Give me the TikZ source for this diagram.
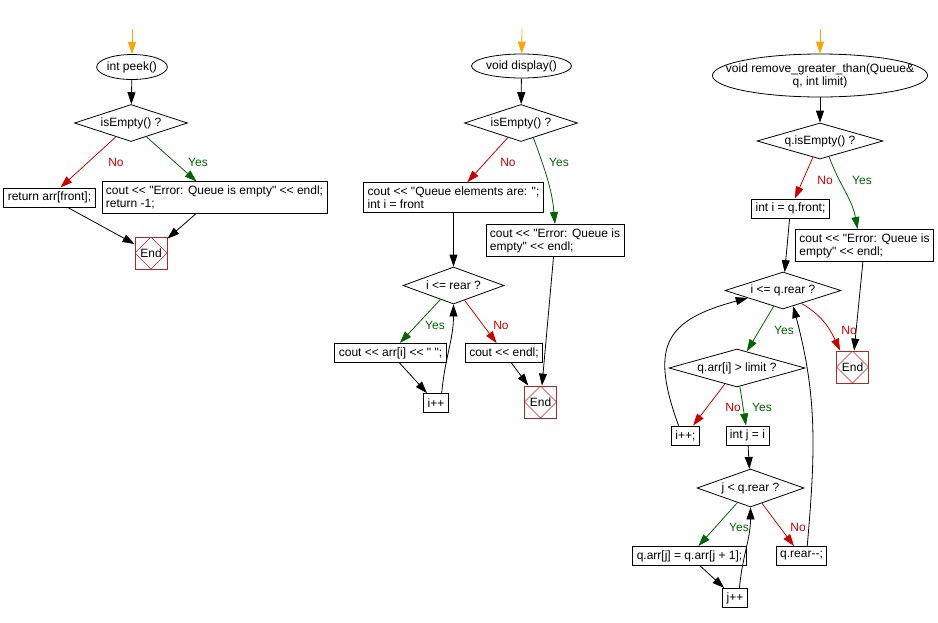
\documentclass[tikz,border=0pt]{standalone}
\usepackage{fontspec}
\setmainfont{Liberation Sans}[Ligatures=TeXOff]
\usetikzlibrary{shapes.geometric,arrows.meta}
\definecolor{nored}{RGB}{204,0,0}
\definecolor{yesgreen}{RGB}{0,100,0}
\definecolor{endbrown}{RGB}{165,42,42}
\definecolor{endred}{RGB}{200,30,30}
\definecolor{startorange}{RGB}{255,165,0}
\begin{document}
\begin{tikzpicture}[x=1pt,y=1pt,line width=0.8pt,font=\fontsize{12}{13}\selectfont,
  >={Triangle[length=12pt,width=8pt]},
  terminal/.style={ellipse,draw,inner xsep=0pt,inner ysep=1pt},
  decision/.style={diamond,draw,aspect=3,inner sep=0pt},
  box/.style={rectangle,draw,align=left,inner xsep=4pt,inner ysep=4pt,minimum height=19pt},
  endbox/.style={draw=endbrown,minimum size=32pt,inner sep=0pt,
    path picture={\draw[endred,line width=0.6pt] (path picture bounding box.north) -- (path picture bounding box.east)
      -- (path picture bounding box.south) -- (path picture bounding box.west) -- cycle;}},
  arr/.style={->},
  arrno/.style={->,nored},
  arryes/.style={->,yesgreen},
  arrstart/.style={->,startorange},
  nolab/.style={text=nored},
  yeslab/.style={text=yesgreen}]
\useasboundingbox (0,0) rectangle (938,-622);
% int peek()
\coordinate (s1) at (132,-29);
\node[terminal,minimum width=67pt,minimum height=25pt] (p1) at (132,-67) {int peek()};
\node[decision,minimum width=113pt,minimum height=37pt] (d1) at (131,-123) {isEmpty() ?};
\node[box] (r1) at (49.5,-197.5) {return arr[front];};
\node[box] (e1) at (214.5,-197.5) {cout << "Error: Queue is empty" << endl;\\return -1;};
\node[endbox] (x1) at (151,-253) {End};
\node[nolab] (n1) at (116,-162) {No};
\node[yeslab] (y1) at (198,-162) {Yes};
\draw[arrstart] (s1) -- (p1);
\draw[arr] (p1) -- (d1);
\draw[arrno] (d1) -- (r1);
\draw[arryes] (d1) -- (e1);
\draw[arr] (r1) -- (x1);
\draw[arr] (e1) -- (x1);
% void display()
\coordinate (s2) at (522,-29);
\node[terminal,minimum width=89pt,minimum height=24pt] (p2) at (521.5,-66) {void display()};
\node[decision,minimum width=113pt,minimum height=37pt] (d2) at (521,-123) {isEmpty() ?};
\node[box] (q2) at (453.5,-197.5) {cout << "Queue elements are: ";\\int i = front};
\node[box] (e2) at (555,-240.5) {cout << "Error: Queue is\\empty" << endl;};
\node[decision,minimum width=101pt,minimum height=37pt] (d3) at (453.5,-285.5) {i <= rear ?};
\node[box] (c2) at (390.5,-353) {cout << arr[i] << " ";};
\node[box] (l2) at (504,-353) {cout << endl;};
\node[box] (i2) at (436,-403) {i++};
\node[endbox] (x2) at (540.5,-402) {End};
\node[nolab] (n2) at (508,-162) {No};
\node[yeslab] (y2) at (559,-162) {Yes};
\node[yeslab] (y3) at (435,-325) {Yes};
\node[nolab] (n3) at (501,-325) {No};
\draw[arrstart] (s2) -- (p2);
\draw[arr] (p2) -- (d2);
\draw[arrno] (d2) -- (q2);
\draw[arryes] (d2.-50) to[out=-70,in=95] (e2.north);
\draw[arr] (q2) -- (d3);
\draw[arryes] (d3) -- (c2);
\draw[arrno] (d3) -- (l2);
\draw[arr] (c2) -- (i2);
\draw[arr] (i2.60) to[out=85,in=-90] (d3.south);
\draw[arr] (l2) -- (x2);
\draw[arr] (e2) -- (x2);
% void remove_greater_than()
\coordinate (s3) at (820,-29);
\node[terminal,inner xsep=-18pt,inner ysep=3pt,align=center,minimum width=214pt,minimum height=43pt] (p3) at (820,-75.5)
  {void remove\_greater\_than(Queue\&\\q, int limit)};
\node[decision,minimum width=126pt,minimum height=36pt] (d5) at (820,-141) {q.isEmpty() ?};
\node[box] (f3) at (790.5,-208.5) {int i = q.front;};
\node[box] (e3) at (864.5,-245.5) {cout << "Error: Queue is\\empty" << endl;};
\node[decision,minimum width=116pt,minimum height=37pt] (d6) at (783,-290.5) {i <= q.rear ?};
\node[endbox] (x3) at (852.5,-367) {End};
\node[decision,minimum width=136pt,minimum height=38pt] (d7) at (737,-368) {q.arr[i] > limit ?};
\node[box] (i3) at (685.5,-435.5) {i++;};
\node[box] (j3) at (747.5,-435.5) {int j = i};
\node[decision,minimum width=107pt,minimum height=38pt] (d8) at (750.5,-488) {j < q.rear ?};
\node[box] (a3) at (689.5,-556) {q.arr[j] = q.arr[j + 1];};
\node[box] (r3) at (801.5,-556) {q.rear--;};
\node[box] (j4) at (735,-598) {j++};
\node[nolab] (n5) at (825,-180) {No};
\node[yeslab] (y5) at (862,-180) {Yes};
\node[yeslab] (y6) at (784,-330) {Yes};
\node[nolab] (n6) at (849,-330) {No};
\node[nolab] (n7) at (733,-407) {No};
\node[yeslab] (y7) at (762,-407) {Yes};
\node[yeslab] (y8) at (739,-527) {Yes};
\node[nolab] (n8) at (798,-527) {No};
\draw[arrstart] (s3) -- (p3);
\draw[arr] (p3) -- (d5);
\draw[arrno] (d5) -- (f3);
\draw[arryes] (d5.-60) to[out=-70,in=100] ([xshift=-7pt]e3.north);
\draw[arr] (f3) -- (d6);
\draw[arr] (e3) -- (x3);
\draw[arryes] (d6) -- (d7);
\draw[arrno] (d6.-35) to[out=-30,in=115] ([xshift=4pt]x3.north west);
\draw[arrno] (d7) -- (i3);
\draw[arryes] (d7) -- (j3);
\draw[arr] (i3.125) to[out=110,in=195,looseness=1.5] (d6.192);
\draw[arr] (j3) -- (d8);
\draw[arryes] (d8) -- (a3);
\draw[arrno] (d8) -- (r3);
\draw[arr] (r3.60) to[out=85,in=-75] (d6.-57);
\draw[arr] (a3) -- (j4);
\draw[arr] (j4.66) to[out=85,in=-90] (d8.south);
\end{tikzpicture}
\end{document}
